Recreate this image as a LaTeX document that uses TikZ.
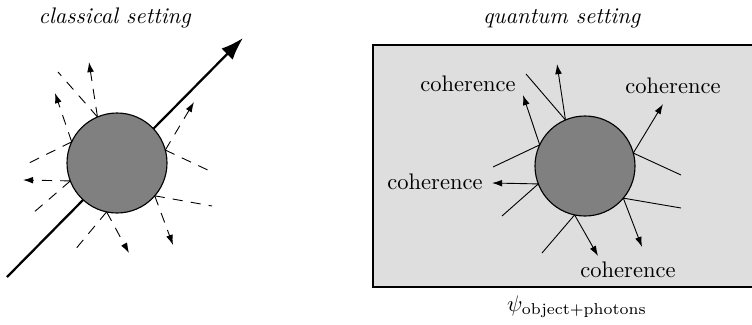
\documentclass[tikz,border=0pt]{standalone}
\usepackage{amsmath}
\usetikzlibrary{arrows.meta,calc}
\definecolor{ballgray}{HTML}{808080}
\definecolor{boxgray}{HTML}{DEDEDE}
\begin{document}
\begin{tikzpicture}[x=0.444pt,y=-0.444pt,
  ball/.style={circle,draw,line width=0.5pt,fill=ballgray,minimum size=44.4pt,inner sep=0pt,outer sep=0pt},
  bgbox/.style={fill=boxgray,anchor=north west,inner sep=0pt,outer sep=0pt},
  boxedge/.style={line width=0.6pt},
  ray/.style={line width=0.4pt},
  rayarrow/.style={line width=0.4pt,-{Latex[length=4.5pt,width=3pt]}},
  photon/.style={dash pattern=on 4.5pt off 3.6pt},
  bigarrow/.style={line width=1pt,-{Latex[length=10pt,width=7pt]}},
  lbl/.style={anchor=base,inner sep=0pt}]
\useasboundingbox (0,0) rectangle (752,324);

% ---------- classical setting ----------
\node[lbl] (t1) at (115,23) {\textit{classical setting}};
\coordinate (bs) at (7,277);
\coordinate (be) at (243,38);
\draw[bigarrow] (bs) -- (be);
\node[ball] (c1) at (117,163) {};
\foreach \ang/\lx/\ly/\ax/\ay in {113/-59/-91/-28/-101, 155/-92/2/-62/-70, 201/-84/50/-94/17, 258/-43/88/12/90, 319/95/43/56/82, 15/95/9/77/-61}{
  \coordinate (cl\ang) at ($(c1.center)+(\lx,\ly)$);
  \coordinate (ca\ang) at ($(c1.center)+(\ax,\ay)$);
  \draw[ray,photon] (c1.\ang) -- (cl\ang);
  \draw[rayarrow,photon] (c1.\ang) -- (ca\ang);
}

% ---------- quantum setting ----------
\node[lbl] (t2) at (562,23) {\textit{quantum setting}};
\node[bgbox,minimum width=170pt,minimum height=107.4pt] (box) at (373,45) {};
\draw[boxedge] (box.north east) -- (box.north west) -- (box.south west) -- (box.south east);
\node[ball] (c2) at (585,166) {};
\foreach \ang/\lx/\ly/\ax/\ay in {113/-59/-92/-28/-102, 155/-92/1/-62/-71, 201/-83/50/-93/17, 258/-43/87/13/90, 320/96/42/57/81, 15/96/9/78/-62}{
  \coordinate (ql\ang) at ($(c2.center)+(\lx,\ly)$);
  \coordinate (qa\ang) at ($(c2.center)+(\ax,\ay)$);
  \draw[ray] (c2.\ang) -- (ql\ang);
  \draw[rayarrow] (c2.\ang) -- (qa\ang);
}
\node[lbl] (co1) at (468,91) {coherence};
\node[lbl] (co2) at (673,93) {coherence};
\node[lbl] (co3) at (435,189) {coherence};
\node[lbl] (co4) at (628,277) {coherence};
\node[lbl] (psi) at (577,311) {$\psi_{\text{object+photons}}$};
\end{tikzpicture}
\end{document}
